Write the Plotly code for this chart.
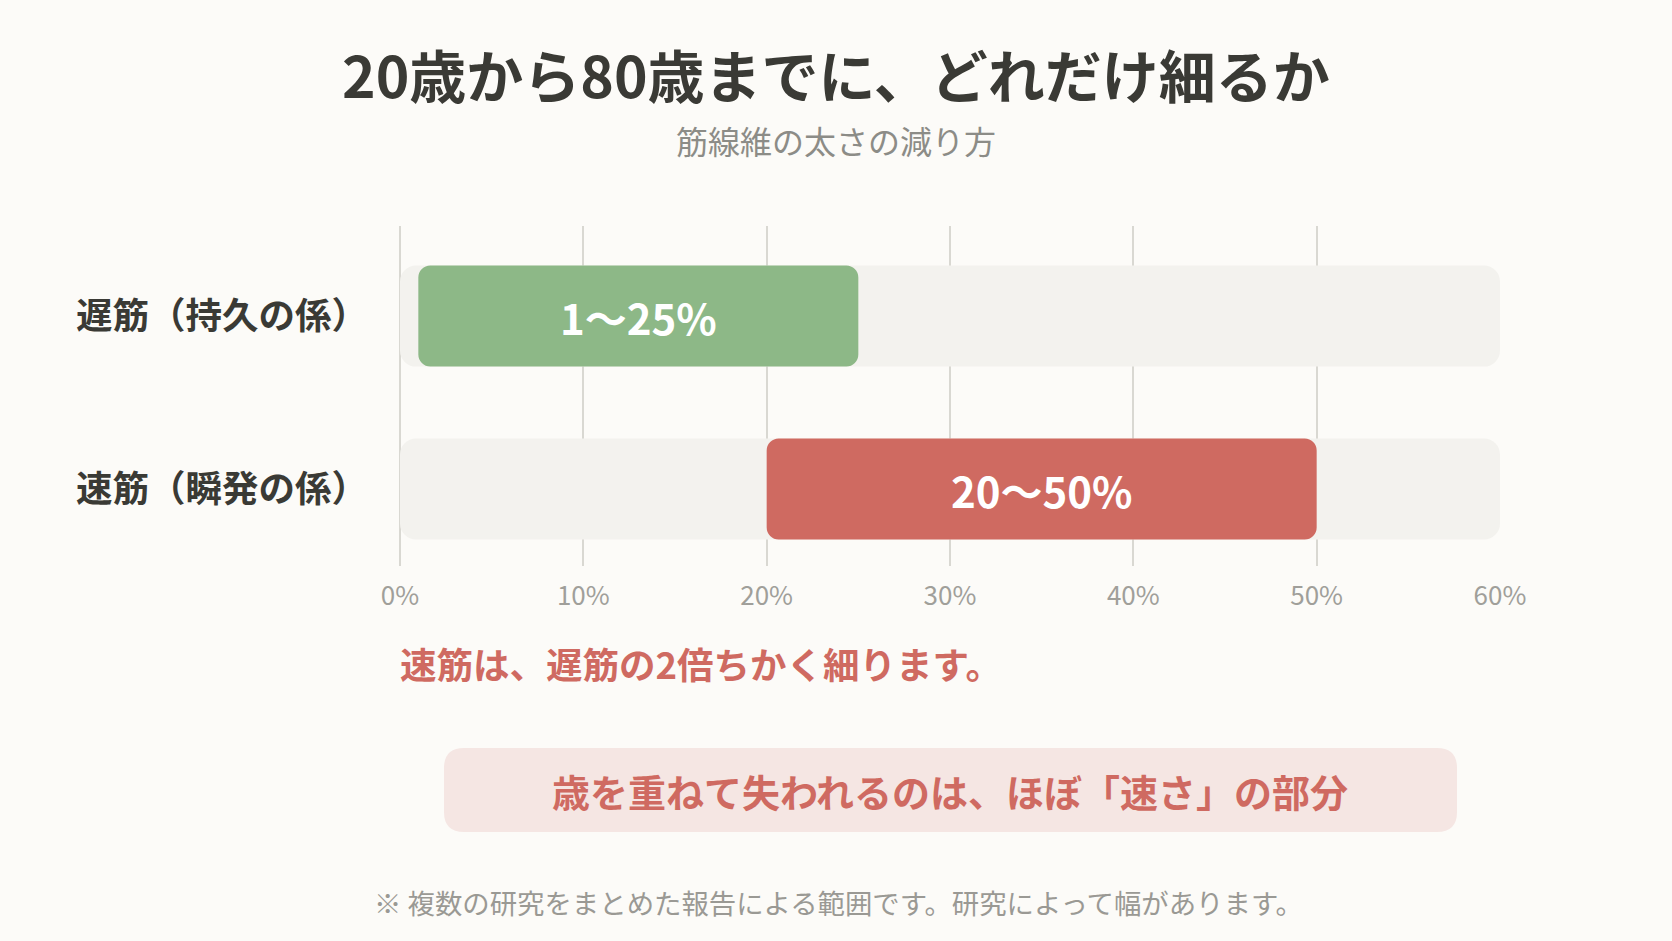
"""
筋線維の太さの減り方 — range bar chart (Plotly)
"""
import plotly.graph_objects as go

# Data
categories = ["遅筋（持久の係）", "速筋（瞬発の係）"]
loss_low = [1, 20]
loss_high = [25, 50]
axis_max = 60
tick_values = [0, 10, 20, 30, 40, 50, 60]
tick_labels = ["0%", "10%", "20%", "30%", "40%", "50%", "60%"]

title_text = "20歳から80歳までに、どれだけ細るか"
subtitle_text = "筋線維の太さの減り方"
note_text = "速筋は、遅筋の2倍ちかく細ります。"
callout_text = "歳を重ねて失われるのは、ほぼ「速さ」の部分"
footnote_text = "※ 複数の研究をまとめた報告による範囲です。研究によって幅があります。"

# Style
FONT = "Noto Sans CJK JP"
BG = "#fcfbf8"
TRACK = "#f3f2ee"
GRID = "#d9d8d2"
DARK = "#3a3a35"
GREY = "#8c8c87"
RED = "#cf6a61"
bar_colors = ["#8db887", "#cf6a61"]

W, H = 1672, 941
PLOT_L, PLOT_R, PLOT_T, PLOT_B = 400, 1500, 226, 566


def px_x(x):
    """Pixel x -> paper fraction."""
    return (x - PLOT_L) / (PLOT_R - PLOT_L)


def px_y(y):
    """Pixel y (from top) -> paper fraction."""
    return (PLOT_B - y) / (PLOT_B - PLOT_T)


def rounded_rect(x0, y0, x1, y1, r):
    """Rounded rectangle path in paper coords, corners given in pixels."""
    rx = r / (PLOT_R - PLOT_L)
    ry = r / (PLOT_B - PLOT_T)
    a, b, c, d = px_x(x0), px_y(y1), px_x(x1), px_y(y0)
    return (
        f"M {a + rx},{b} L {c - rx},{b} Q {c},{b} {c},{b + ry} "
        f"L {c},{d - ry} Q {c},{d} {c - rx},{d} "
        f"L {a + rx},{d} Q {a},{d} {a},{d - ry} "
        f"L {a},{b + ry} Q {a},{b} {a + rx},{b} Z"
    )


fig = go.Figure()

# background tracks
fig.add_trace(go.Bar(
    y=categories,
    x=[axis_max] * len(categories),
    base=[0] * len(categories),
    orientation="h",
    width=0.584,
    marker=dict(color=TRACK, cornerradius=16, line_width=0),
    hoverinfo="skip",
))

# range bars
fig.add_trace(go.Bar(
    y=categories,
    x=[h - l for l, h in zip(loss_low, loss_high)],
    base=loss_low,
    orientation="h",
    width=0.584,
    marker=dict(color=bar_colors, cornerradius=12, line_width=0),
    text=[f"{l}〜{h}%" for l, h in zip(loss_low, loss_high)],
    textposition="inside",
    insidetextanchor="middle",
    textangle=0,
    textfont=dict(family=FONT, size=42, color="white", weight=600),
    constraintext="none",
    hoverinfo="skip",
))

fig.update_layout(
    width=W,
    height=H,
    barmode="overlay",
    showlegend=False,
    paper_bgcolor=BG,
    plot_bgcolor=BG,
    margin=dict(l=PLOT_L, r=W - PLOT_R, t=PLOT_T, b=H - PLOT_B, pad=0),
    font=dict(family=FONT, color=DARK),
    xaxis=dict(
        range=[0, axis_max],
        tickvals=tick_values,
        ticktext=tick_labels,
        showgrid=True,
        gridcolor=GRID,
        gridwidth=1.5,
        zeroline=True,
        zerolinecolor=GRID,
        zerolinewidth=1.5,
        showline=False,
        ticks="",
        ticklabelstandoff=12,
        tickfont=dict(family=FONT, size=26, color="#a09f9a"),
        fixedrange=True,
    ),
    yaxis=dict(
        range=[1.445, -0.521],
        showgrid=False,
        zeroline=False,
        showline=False,
        ticks="",
        ticklabelstandoff=31,
        tickfont=dict(family=FONT, size=36.5, color=DARK, weight="bold"),
        fixedrange=True,
    ),
)

# callout box behind text
fig.add_shape(
    type="path",
    path=rounded_rect(444, 748, 1457, 832, 20),
    xref="paper",
    yref="paper",
    fillcolor="#f5e6e3",
    line_width=0,
    layer="below",
)

texts = [
    # text, x px, y px, anchor, size, color, bold
    (title_text, W / 2, 73, "center", 57, DARK, True),
    (subtitle_text, W / 2, 140, "center", 32, GREY, False),
    (note_text, 398, 663, "left", 36.5, RED, True),
    (callout_text, 950, 790, "center", 38, RED, True),
    (footnote_text, 372, 902, "left", 27.4, "#9a9994", False),
]
for txt, x, y, anchor, size, color, bold in texts:
    fig.add_annotation(
        text=txt,
        x=px_x(x),
        y=px_y(y),
        xref="paper",
        yref="paper",
        xanchor=anchor,
        yanchor="middle",
        showarrow=False,
        font=dict(family=FONT, size=size, color=color,
                  weight="bold" if bold else "normal"),
    )

# drop the page's default body margin so the figure sits flush
fig.write_html(
    "out.html",
    config={"displayModeBar": False},
    post_script="document.body.style.margin='0';"
                "document.body.style.background='#fcfbf8';",
)
